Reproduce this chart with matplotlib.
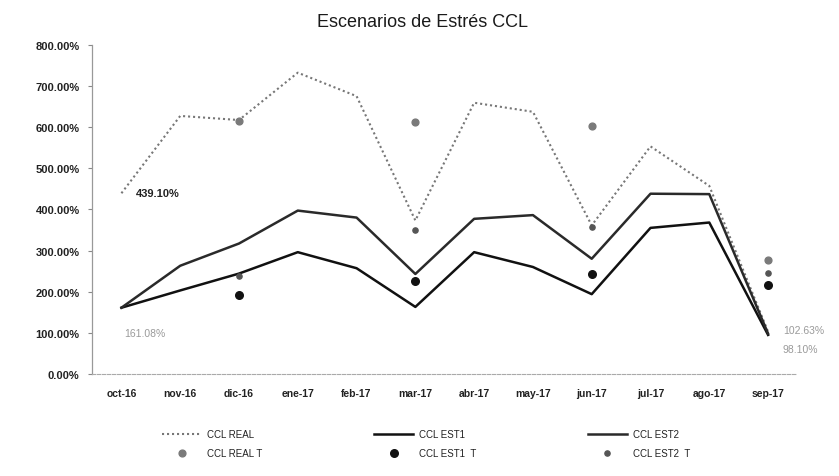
import matplotlib.pyplot as plt
from matplotlib.ticker import FuncFormatter
import numpy as np

meses = ['oct-16', 'nov-16', 'dic-16', 'ene-17', 'feb-17', 'mar-17',
         'abr-17', 'may-17', 'jun-17', 'jul-17', 'ago-17', 'sep-17']

ccl_real = [439.10, 627, 617, 732, 675, 373, 659, 637, 361, 553, 457, 102.63]
ccl_est1 = [161.08, 203, 244, 296, 257, 163, 296, 260, 194, 355, 368, 95]
ccl_est2 = [161.08, 263, 317, 397, 380, 243, 377, 386, 280, 438, 437, 98.10]

# trimestral points (dic, mar, jun, sep)
t_meses = ['dic-16', 'mar-17', 'jun-17', 'sep-17']
ccl_real_t = [615, 613, 603, 276]
ccl_est1_t = [192, 227, 243, 216]
ccl_est2_t = [238, 351, 358, 246]

plt.rcParams['font.family'] = ['Liberation Sans', 'DejaVu Sans']

fig = plt.figure(figsize=(8.39, 4.77), dpi=100)
ax = fig.add_axes([0.1097, 0.2138, 0.8408, 0.6904])

x = np.arange(len(meses))
tx = [meses.index(m) for m in t_meses]

l_real, = ax.plot(x, ccl_real, color='#777777', linestyle=(0, (1, 1.4)), linewidth=1.5,
                  label='CCL REAL')
l_est1, = ax.plot(x, ccl_est1, color='#111111', linewidth=1.8, label='CCL EST1')
l_est2, = ax.plot(x, ccl_est2, color='#2a2a2a', linewidth=1.8, label='CCL EST2')

p_real = ax.scatter(tx, ccl_real_t, s=24, color='#7a7a7a', zorder=5, label='CCL REAL T')
p_est1 = ax.scatter(tx, ccl_est1_t, s=30, color='#111111', zorder=5, label='CCL EST1  T')
p_est2 = ax.scatter(tx, ccl_est2_t, s=14, color='#555555', zorder=5, label='CCL EST2  T')

ax.set_xlim(-0.5, len(meses) - 0.5)
ax.set_ylim(0, 800)
ax.set_yticks(np.arange(0, 801, 100))
ax.yaxis.set_major_formatter(FuncFormatter(lambda v, p: f'{v:.2f}%'))
ax.set_xticks(x)
ax.set_xticklabels(meses)
ax.tick_params(axis='y', labelsize=8, length=3, width=0.8, color='#888888', pad=6)
ax.tick_params(axis='x', labelsize=7.5, length=0, pad=10)
for lab in ax.get_yticklabels() + ax.get_xticklabels():
    lab.set_fontweight('bold')
    lab.set_color('#222222')

for s in ['top', 'right']:
    ax.spines[s].set_visible(False)
ax.spines['left'].set_color('#999999')
ax.spines['left'].set_linewidth(0.9)
ax.spines['bottom'].set_color('#aaaaaa')
ax.spines['bottom'].set_linestyle((0, (3, 1.5)))
ax.spines['bottom'].set_linewidth(0.8)

# data labels
ax.text(0.25, ccl_real[0], f'{ccl_real[0]:.2f}%', fontsize=8, fontweight='bold',
        color='#222222', va='center', ha='left')
ax.text(0.05, 100, f'{ccl_est1[0]:.2f}%', fontsize=7.5, color='#9a9a9a',
        va='center', ha='left')
ax.text(11.25, 108, f'{ccl_real[-1]:.2f}%', fontsize=7.5, color='#9a9a9a',
        va='center', ha='left', clip_on=False)
ax.text(11.25, 60, f'{ccl_est2[-1]:.2f}%', fontsize=7.5, color='#9a9a9a',
        va='center', ha='left', clip_on=False)

fig.text(0.503, 0.953, 'Escenarios de Estrés CCL', ha='center', va='center',
         fontsize=13, color='#1a1a1a')

handles = [l_real, p_real, l_est1, p_est1, l_est2, p_est2]
leg = fig.legend(handles=handles, labels=[h.get_label() for h in handles],
                 loc='center', bbox_to_anchor=(0.508, 0.068), ncol=3, frameon=False,
                 fontsize=7, columnspacing=11.5, handlelength=4, handletextpad=0.6,
                 labelspacing=0.9)
for t in leg.get_texts():
    t.set_color('#222222')

fig.savefig('out.png', dpi=100)
